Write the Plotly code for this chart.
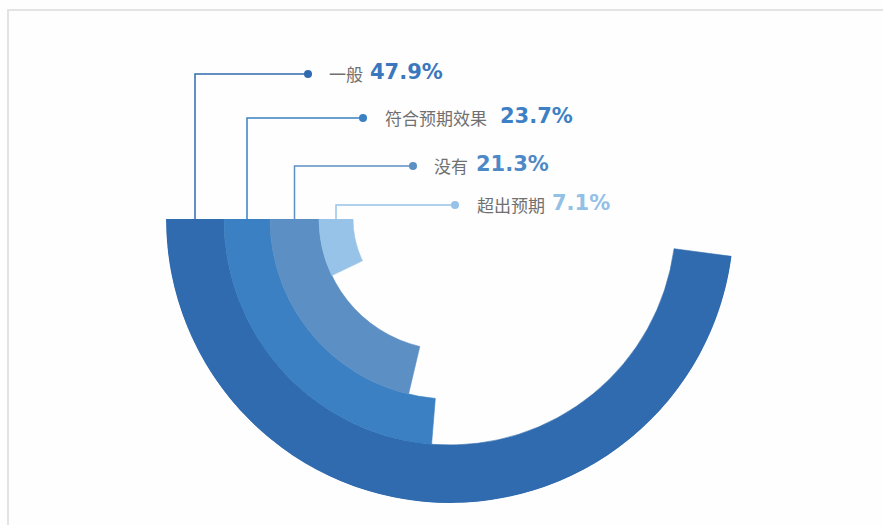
import plotly.graph_objects as go

# Survey answers and their shares (percent of respondents)
categories = ["一般", "符合预期效果", "没有", "超出预期"]
shares = [47.9, 23.7, 21.3, 7.1]
pct_labels = ["47.9%", "23.7%", "21.3%", "7.1%"]

# Styling
ring_colors = ["#306BAF", "#3A80C3", "#5C8FC4", "#98C3E8"]
text_colors = ["#3B77BC", "#3E80C5", "#4D89C7", "#93C0E6"]
label_color = "#707070"

# Canvas and ring geometry (radial axis units are pixels)
W, H = 883, 525
CX, CY, R = 450, 219, 284
ring_edges = [284, 226, 180, 131, 97]   # outer -> inner boundaries
START_DEG = 180                          # rings start at 9 o'clock

# Callout layout: row height, dot x, label x, percent x
row_y = [74, 118, 166, 205]
dot_x = [308, 363, 413, 455]
label_x = [327, 383, 432, 475]
pct_x = [368, 498, 474, 550]


def px(x):
    return x / W


def py(y):
    return 1 - y / H


fig = go.Figure()

for i, (cat, val) in enumerate(zip(categories, shares)):
    sweep = val * 3.6
    fig.add_trace(go.Barpolar(
        r=[ring_edges[i] - ring_edges[i + 1]],
        base=[ring_edges[i + 1]],
        theta=[START_DEG + sweep / 2],
        width=[sweep],
        marker=dict(color=ring_colors[i],
                    line=dict(width=0.6, color=ring_colors[i])),
        name=cat,
        hovertext=[f"{cat} {pct_labels[i]}"],
        hoverinfo="text",
        showlegend=False,
    ))

shapes = [
    # light card frame
    dict(type="rect", xref="paper", yref="paper",
         x0=px(8), x1=px(W + 20), y0=py(H + 20), y1=py(10),
         line=dict(color="#E3E3E3", width=2), fillcolor="rgba(0,0,0,0)",
         layer="below"),
]
annotations = []

for i, cat in enumerate(categories):
    x_mid = CX - (ring_edges[i] + ring_edges[i + 1]) / 2
    path = (f"M {px(x_mid)},{py(CY)} L {px(x_mid)},{py(row_y[i])} "
            f"L {px(dot_x[i])},{py(row_y[i])}")
    shapes.append(dict(type="path", xref="paper", yref="paper", path=path,
                       line=dict(color=ring_colors[i], width=1.5)))
    rdot = 4
    shapes.append(dict(type="circle", xref="paper", yref="paper",
                       x0=px(dot_x[i] - rdot), x1=px(dot_x[i] + rdot),
                       y0=py(row_y[i] + rdot), y1=py(row_y[i] - rdot),
                       fillcolor=ring_colors[i], line=dict(width=0)))
    annotations.append(dict(
        x=px(label_x[i]), y=py(row_y[i] - 1), xref="paper", yref="paper",
        xanchor="left", yanchor="middle", showarrow=False, text=cat,
        font=dict(family="Noto Sans CJK SC", size=17, color=label_color)))
    annotations.append(dict(
        x=px(pct_x[i]), y=py(row_y[i] - 2), xref="paper", yref="paper",
        xanchor="left", yanchor="middle", showarrow=False,
        text=f"<b>{pct_labels[i]}</b>",
        font=dict(family="DejaVu Sans", size=21, color=text_colors[i])))

fig.update_layout(
    width=W, height=H,
    margin=dict(l=0, r=0, t=0, b=0),
    paper_bgcolor="#FEFEFE",
    plot_bgcolor="#FEFEFE",
    polar=dict(
        domain=dict(x=[px(CX - R), px(CX + R)], y=[py(CY + R), py(CY)]),
        sector=[180, 360],
        bgcolor="rgba(0,0,0,0)",
        barmode="overlay",
        radialaxis=dict(range=[0, R], visible=False, showgrid=False,
                        showline=False, showticklabels=False),
        angularaxis=dict(visible=False, direction="counterclockwise",
                         rotation=0, showgrid=False, showline=False,
                         showticklabels=False, ticks=""),
    ),
    shapes=shapes,
    annotations=annotations,
)

fig.write_html("out.html")
